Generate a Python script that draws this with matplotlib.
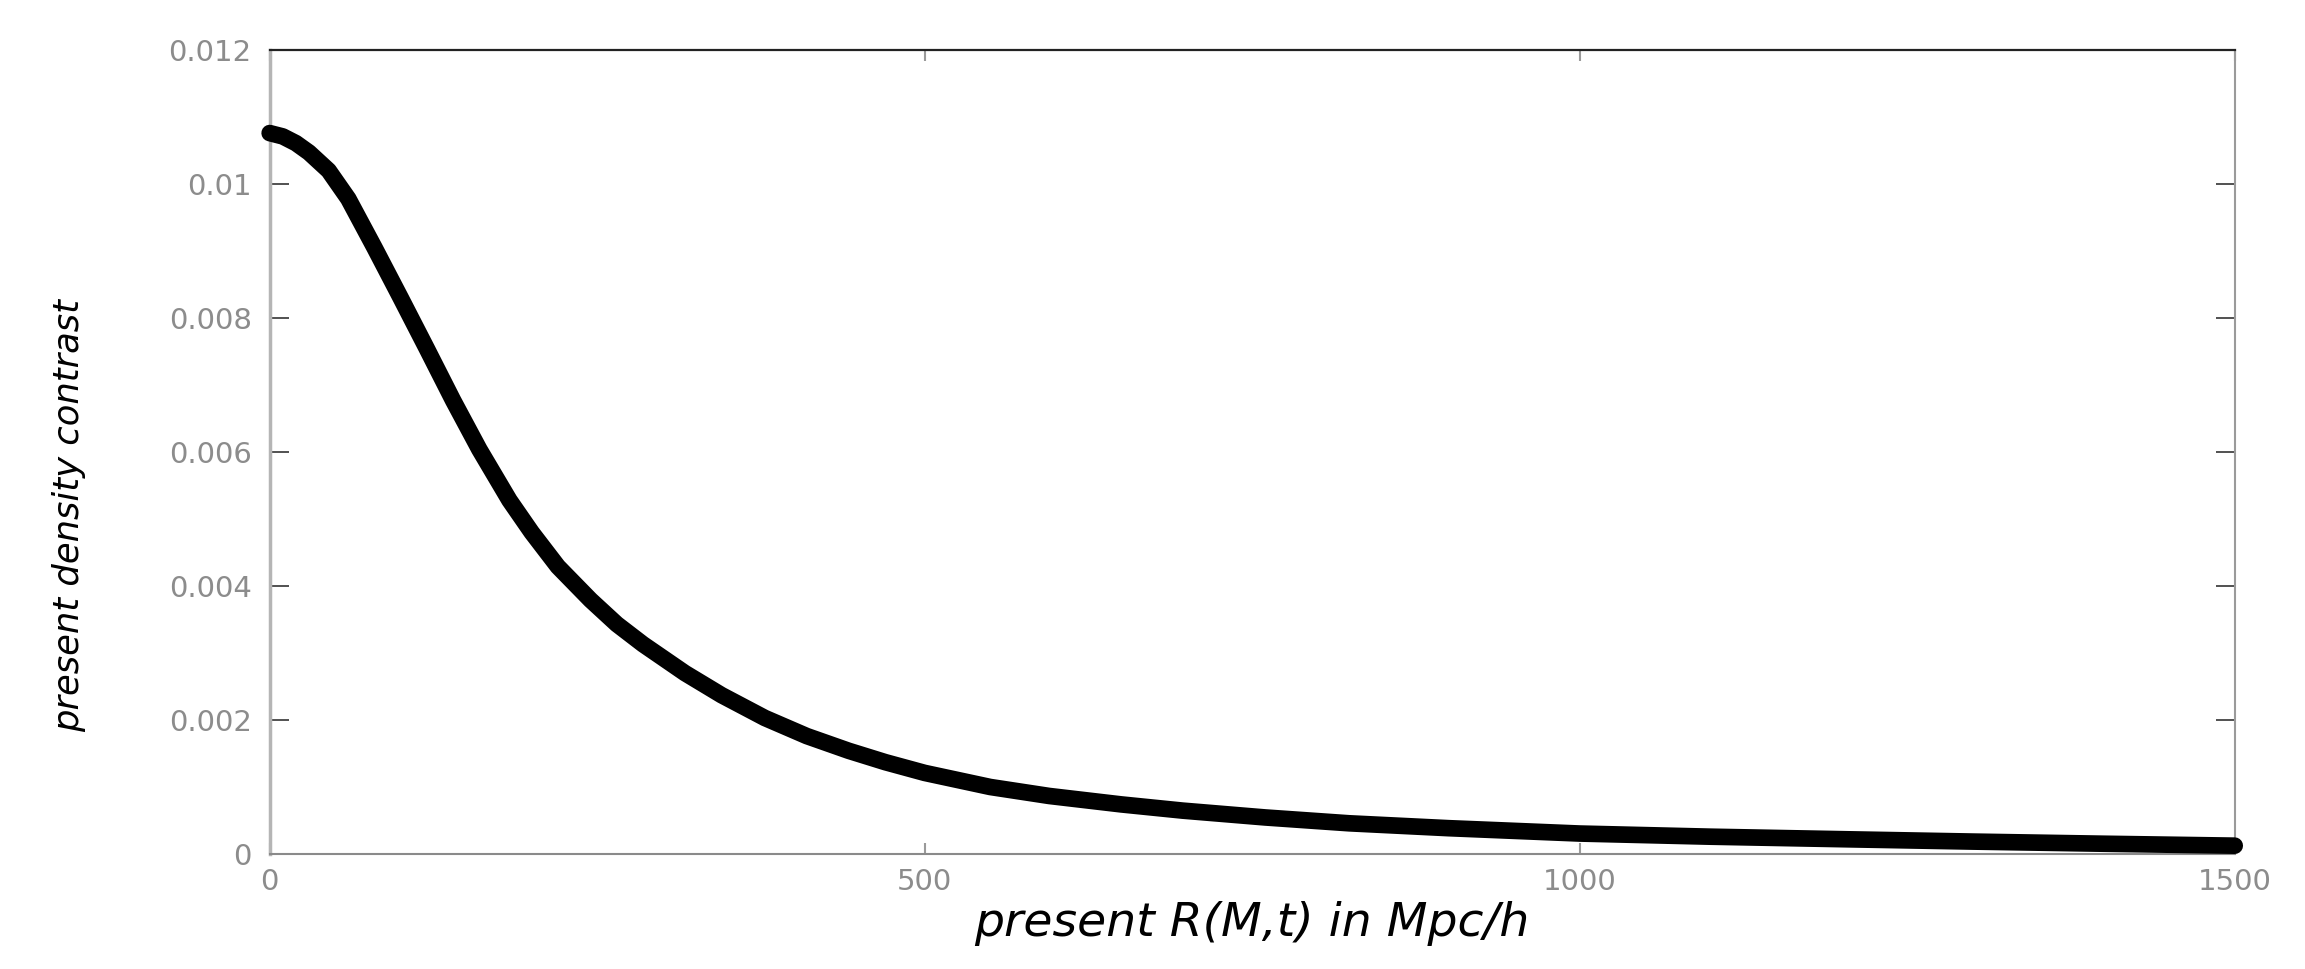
import matplotlib
matplotlib.use('Agg')
import matplotlib.pyplot as plt
from matplotlib import font_manager

# present comoving radius R(M,t) [Mpc/h] and present density contrast
radius = [0, 10, 20, 30, 45, 60, 80, 100, 120, 140, 160, 183, 200, 220, 245, 265,
          285, 317, 345, 378, 410, 442, 470, 500, 550, 595, 650, 697, 760, 824,
          900, 1000, 1100, 1205, 1300, 1400, 1500]
contrast = [0.01076, 0.01071, 0.01061, 0.01047, 0.01020, 0.00978, 0.00905, 0.00830,
            0.00754, 0.00677, 0.00604, 0.00528, 0.00480, 0.00429, 0.00379, 0.00343,
            0.00313, 0.00270, 0.00237, 0.00203, 0.00176, 0.00154, 0.00137, 0.00121,
            0.00100, 0.000866, 0.000740, 0.000647, 0.000545, 0.000458, 0.000385,
            0.000305, 0.000258, 0.000219, 0.000185, 0.000153, 0.000124]

xticks = [0, 500, 1000, 1500]
xticklabels = ['0', '500', '1000', '1500']
yticks = [0, 0.002, 0.004, 0.006, 0.008, 0.010, 0.012]
yticklabels = ['0', '0.002', '0.004', '0.006', '0.008', '0.01', '0.012']

TICK_GREY = '#8c8c8c'

installed = {f.name for f in font_manager.fontManager.ttflist}
if 'Liberation Sans Narrow' in installed:
    ylab_font, ylab_size = 'Liberation Sans Narrow', 35
else:
    ylab_font, ylab_size = 'DejaVu Sans', 25.5

fig = plt.figure(figsize=(23.05, 9.69), dpi=100, facecolor='white')
ax = fig.add_axes([0.117, 0.1187, 0.8525, 0.8297])

# dense open-circle markers in the original merge into one thick band
ax.plot(radius, contrast, color='black', linewidth=12, solid_capstyle='round',
        solid_joinstyle='round', clip_on=False, zorder=3)

ax.set_xlim(0, 1500)
ax.set_ylim(0, 0.012)
ax.set_xticks(xticks)
ax.set_xticklabels(xticklabels)
ax.set_yticks(yticks)
ax.set_yticklabels(yticklabels)

ax.tick_params(axis='y', direction='in', length=14, width=1.2, color='#333333',
               left=True, right=True, labelsize=21, labelcolor=TICK_GREY, pad=13)
ax.tick_params(axis='x', direction='in', length=8, width=1.5, color='#9a9a9a',
               bottom=True, top=True, labelsize=21, labelcolor=TICK_GREY, pad=10)

ax.spines['left'].set_color('#b5b5b5')
ax.spines['left'].set_linewidth(2.5)
ax.spines['bottom'].set_color('#8a8a8a')
ax.spines['bottom'].set_linewidth(1.5)
ax.spines['right'].set_color('#9a9a9a')
ax.spines['right'].set_linewidth(1.5)
ax.spines['top'].set_color('#222222')
ax.spines['top'].set_linewidth(1.6)

ax.set_xlabel('present R(M,t) in Mpc/h', fontsize=34, style='italic',
              family='DejaVu Sans', color='black')
ax.xaxis.set_label_coords(0.5, -0.058)
ax.set_ylabel('present density contrast', fontsize=ylab_size, style='italic',
              family=[ylab_font, 'DejaVu Sans'], color='black')
ax.yaxis.set_label_coords(-0.0936, 0.4216)

fig.savefig('out.png', dpi=100, facecolor='white')
